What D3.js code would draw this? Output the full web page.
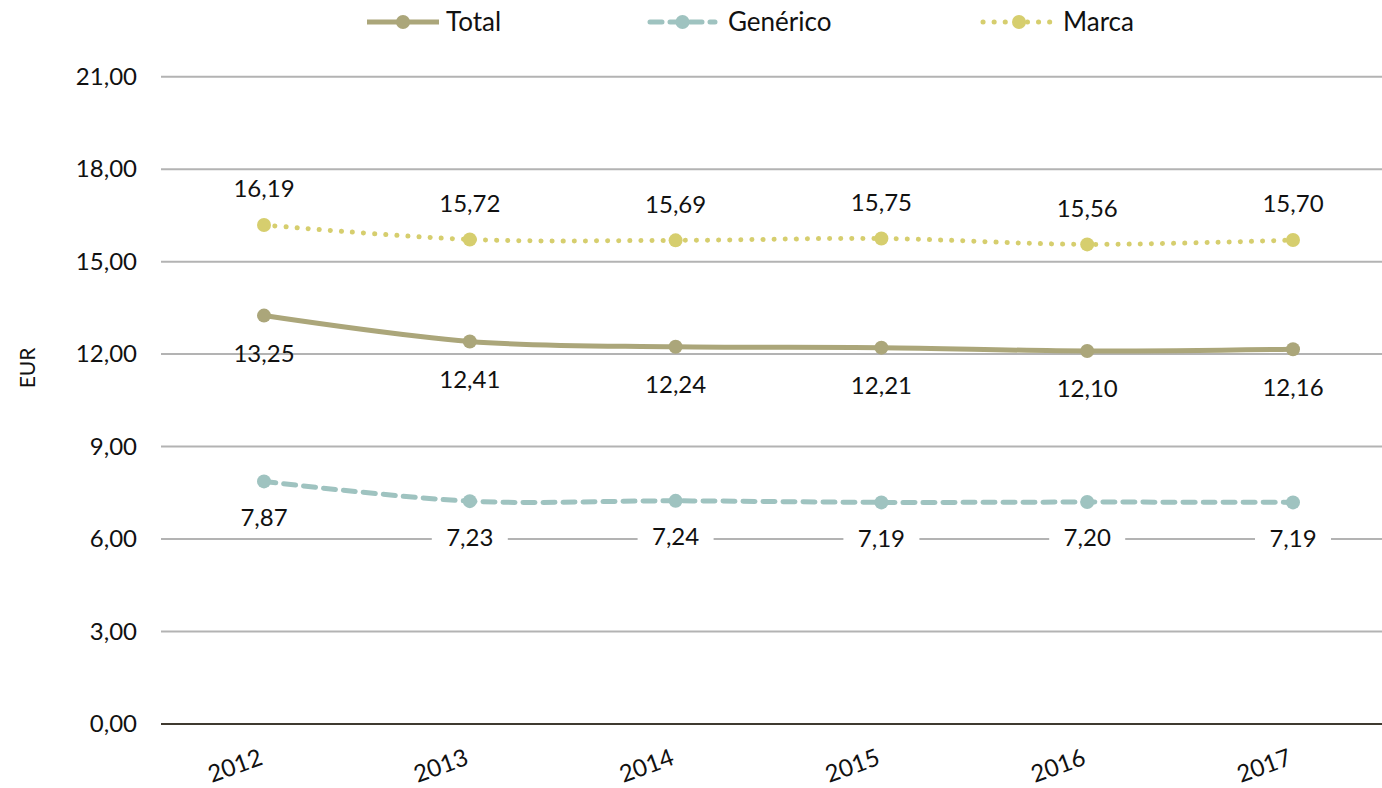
<!DOCTYPE html>
<html lang="es">
<head>
<meta charset="UTF-8" />
<title>EUR por año</title>
<style>
    body { margin: 0; background: #fff; }
    text { font-family: Lato, "Open Sans", sans-serif; fill: #111; }
</style>
</head>
<body>
<div id="container"></div>
<script src="https://cdnjs.cloudflare.com/ajax/libs/d3/7.8.5/d3.min.js"></script>
<script>
    let years = ["2012", "2013", "2014", "2015", "2016", "2017"];
    let total = [13.25, 12.41, 12.24, 12.21, 12.10, 12.16];
    let generico = [7.87, 7.23, 7.24, 7.19, 7.20, 7.19];
    let marca = [16.19, 15.72, 15.69, 15.75, 15.56, 15.70];
    let yTicks = [0, 3, 6, 9, 12, 15, 18, 21];

    let width = 1382, height = 788;
    let fmt = (v) => v.toFixed(2).replace(".", ",");

    let series = [
        { name: "Total", values: total, color: "#aba67a", dash: null, cap: "butt", labelDy: 38, bg: false },
        { name: "Genérico", values: generico, color: "#9fc3c0", dash: "12,8", cap: "round", labelDy: 36, bg: true },
        { name: "Marca", values: marca, color: "#d6ce6e", dash: "0.1,11", cap: "round", labelDy: -36, bg: false }
    ];

    let x = d3.scalePoint().domain(years).range([264, 1293]);
    let y = d3.scaleLinear().domain([0, 21]).range([724, 76.7]);

    let svg = d3.select("#container").append("svg").attr("width", width).attr("height", height);

    // rejilla
    svg.append("g").selectAll("line").data(yTicks.filter(d => d > 0)).enter().append("line")
        .attr("x1", 161).attr("x2", 1400)
        .attr("y1", d => y(d)).attr("y2", d => y(d))
        .attr("stroke", "#b3b3b3").attr("stroke-width", 2);

    // eje y (solo etiquetas)
    let yAxis = svg.append("g").attr("transform", "translate(161,0)")
        .call(d3.axisLeft(y).tickValues(yTicks).tickFormat(fmt).tickSize(0).tickPadding(24));
    yAxis.select(".domain").remove();
    yAxis.selectAll("text").style("font-size", "24px").attr("font-family", null);

    // eje x
    svg.append("line").attr("x1", 161).attr("x2", 1400).attr("y1", y(0)).attr("y2", y(0))
        .attr("stroke", "#3f3a30").attr("stroke-width", 2);
    svg.append("g").selectAll("text").data(years).enter().append("text")
        .attr("transform", d => `translate(${x(d)},${y(0) + 40}) rotate(-20)`)
        .attr("text-anchor", "end")
        .style("font-size", "24px")
        .text(d => d);

    svg.append("text")
        .attr("transform", "translate(35,368) rotate(-90)")
        .attr("text-anchor", "middle")
        .style("font-size", "21px")
        .text("EUR");

    let line = d3.line().x((d, i) => x(years[i])).y(d => y(d)).curve(d3.curveCatmullRom);

    series.forEach(s => {
        let g = svg.append("g");
        g.append("path").datum(s.values)
            .attr("d", line)
            .attr("fill", "none")
            .attr("stroke", s.color)
            .attr("stroke-width", 5)
            .attr("stroke-linecap", s.cap)
            .attr("stroke-dasharray", s.dash);
        g.selectAll("circle").data(s.values).enter().append("circle")
            .attr("cx", (d, i) => x(years[i]))
            .attr("cy", d => y(d))
            .attr("r", 7)
            .attr("fill", s.color);
        let lab = g.selectAll("g.lab").data(s.values).enter().append("g")
            .attr("transform", (d, i) => `translate(${x(years[i])},${y(d) + s.labelDy})`);
        if (s.bg) {
            lab.append("rect").attr("x", -38).attr("y", -15).attr("width", 76).attr("height", 30).attr("fill", "#fff");
        }
        lab.append("text")
            .attr("text-anchor", "middle")
            .attr("dy", "0.35em")
            .style("font-size", "24px")
            .text(d => fmt(d));
    });

    // leyenda
    let legendItems = [
        { s: series[0], x0: 367, x1: 439, tx: 446 },
        { s: series[1], x0: 650, x1: 715, tx: 728 },
        { s: series[2], x0: 983, x1: 1055, tx: 1063 }
    ];
    let lg = svg.append("g").selectAll("g").data(legendItems).enter().append("g");
    lg.append("line")
        .attr("x1", d => d.x0).attr("x2", d => d.x1)
        .attr("y1", 22).attr("y2", 22)
        .attr("stroke", d => d.s.color).attr("stroke-width", 5)
        .attr("stroke-linecap", d => d.s.cap)
        .attr("stroke-dasharray", d => d.s.dash);
    lg.append("circle")
        .attr("cx", d => (d.x0 + d.x1) / 2).attr("cy", 22).attr("r", 7)
        .attr("fill", d => d.s.color);
    lg.append("text")
        .attr("x", d => d.tx).attr("y", 22).attr("dy", "0.35em")
        .style("font-size", "26px")
        .text(d => d.s.name);
</script>
</body>
</html>
